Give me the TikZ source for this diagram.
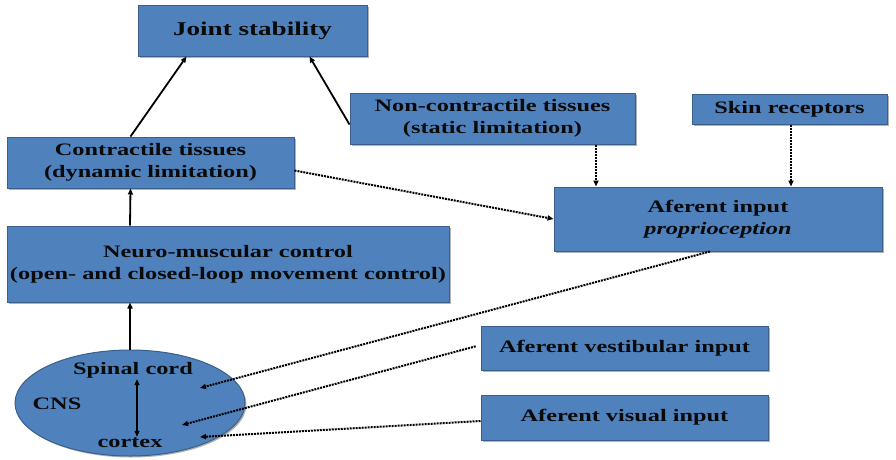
\documentclass[tikz,border=0pt]{standalone}
\usepackage{fontspec}
\setmainfont{Liberation Serif}[FakeStretch=1.39]
\usetikzlibrary{shapes.geometric, arrows.meta, shadows}
\definecolor{boxfill}{HTML}{4F81BD}
\definecolor{boxline}{HTML}{3A5F8B}
\definecolor{textc}{HTML}{0A0A0A}
\tikzset{
  box/.style={draw=boxline, line width=1pt, fill=boxfill, align=center,
    font=\bfseries\fontsize{17.5}{22}\selectfont, text=textc, inner sep=0pt,
    drop shadow={shadow xshift=1.5pt, shadow yshift=-1.5pt, fill=black, opacity=0.3}},
  lbl/.style={inner sep=1pt, font=\bfseries\fontsize{17.5}{20}\selectfont, text=textc},
  solidarr/.style={-{Triangle[length=6pt,width=5pt]}, line width=1.8pt},
  dblarr/.style={{Triangle[length=6pt,width=5pt]}-{Triangle[length=6pt,width=5pt]}, line width=1.2pt},
  dotarr/.style={-{Triangle[length=6pt,width=5pt]}, line width=2pt, dash pattern=on 2pt off 1pt},
}
\begin{document}
\begin{tikzpicture}[x=1pt, y=-1pt]
\useasboundingbox (0,0) rectangle (896,459);
\node[box, minimum width=229pt, minimum height=51pt, font=\bfseries\fontsize{19.5}{22}\selectfont] (js) at (252.5,30.5) {Joint stability};
\node[box, minimum width=285pt, minimum height=51pt] (nc) at (492.5,118.5) {Non-contractile tissues\\(static limitation)};
\node[box, minimum width=195pt, minimum height=30pt] (sr) at (789.5,109) {Skin receptors};
\node[box, minimum width=287pt, minimum height=51pt] (ct) at (150.5,162.5) {Contractile tissues\\(dynamic limitation)};
\node[box, minimum width=328pt, minimum height=64pt] (ai) at (718,219) {Aferent input\\\textit{proprioception}};
\node[box, minimum width=442pt, minimum height=76pt] (nm) at (228,264) {Neuro-muscular control\\(open- and closed-loop movement control)};
\node[box, ellipse, minimum width=230pt, minimum height=106pt] (cns) at (130,403) {};
\node[box, minimum width=287pt, minimum height=44pt] (ve) at (624.5,348) {Aferent vestibular input};
\node[box, minimum width=287pt, minimum height=45pt] (vi) at (624.5,417.5) {Aferent visual input};
\node[lbl] (sc) at (133,370) {Spinal cord};
\node[lbl] (cn) at (57,404) {CNS};
\node[lbl] (cx) at (130,443) {cortex};
\coordinate (e1) at (200,388);
\coordinate (e2) at (182,425);
\coordinate (e3) at (200,437);
\draw[solidarr] ([xshift=-20pt]ct.north) -- ([xshift=-66pt]js.south);
\draw[solidarr] ([yshift=-6pt]nc.west) -- ([xshift=57pt]js.south);
\draw[solidarr] ([xshift=-98pt]nm.north) -- ([xshift=-20pt]ct.south);
\draw[solidarr] (cns.north) -- ([xshift=-98pt]nm.south);
\draw[dblarr] ([xshift=4pt]sc.south) -- ([xshift=7pt]cx.north);
\draw[dotarr] ([yshift=-8pt]ct.east) -- (ai.west);
\draw[dotarr] ([xshift=103.5pt]nc.south) -- ([xshift=-122pt]ai.north);
\draw[dotarr] ([xshift=1.5pt]sr.south) -- ([xshift=73pt]ai.north);
\draw[dotarr] ([xshift=-8pt]ai.south) -- (e1);
\draw[dotarr, shorten <=5pt] ([yshift=3pt]ve.west) -- (e2);
\draw[dotarr] ([yshift=-3.5pt]vi.west) -- (e3);
\end{tikzpicture}
\end{document}
